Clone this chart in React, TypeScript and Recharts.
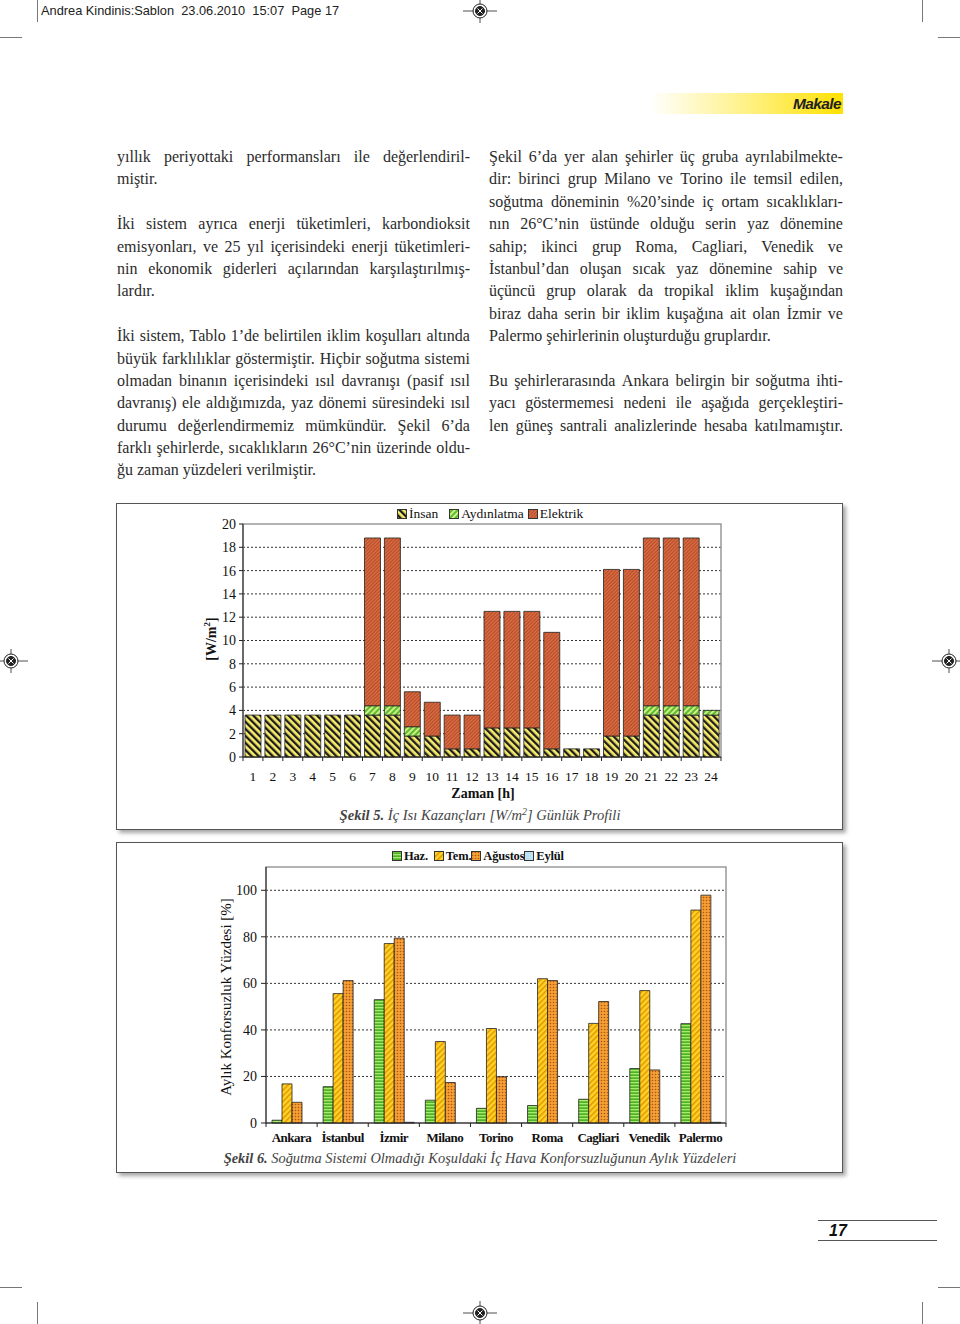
import React from 'react';
import { BarChart, Bar, XAxis, YAxis, CartesianGrid, ReferenceArea } from 'recharts';

// Şekil 5 - hourly internal gains [W/m2]
const hours = ['1', '2', '3', '4', '5', '6', '7', '8', '9', '10', '11', '12', '13', '14', '15', '16', '17', '18', '19', '20', '21', '22', '23', '24'];
const insan = [3.6, 3.6, 3.6, 3.6, 3.6, 3.6, 3.6, 3.6, 1.8, 1.8, 0.7, 0.7, 2.5, 2.5, 2.5, 0.7, 0.7, 0.7, 1.8, 1.8, 3.6, 3.6, 3.6, 3.6];
const aydinlatma = [0, 0, 0, 0, 0, 0, 0.8, 0.8, 0.8, 0, 0, 0, 0, 0, 0, 0, 0, 0, 0, 0, 0.8, 0.8, 0.8, 0.4];
const elektrik = [0, 0, 0, 0, 0, 0, 14.4, 14.4, 3.0, 2.9, 2.9, 2.9, 10.0, 10.0, 10.0, 10.0, 0, 0, 14.3, 14.3, 14.4, 14.4, 14.4, 0];
const gainTicks = [0, 2, 4, 6, 8, 10, 12, 14, 16, 18, 20];
const gainGrid = [2, 4, 6, 8, 10, 12, 14, 16, 18];

// Şekil 6 - monthly discomfort percentages
const cities = ['Ankara', 'İstanbul', 'İzmir', 'Milano', 'Torino', 'Roma', 'Cagliari', 'Venedik', 'Palermo'];
const haziran = [1.2, 15.6, 53.0, 9.8, 6.3, 7.5, 10.2, 23.4, 42.7];
const temmuz = [16.8, 55.6, 77.1, 35.0, 40.6, 62.0, 42.8, 56.9, 91.5];
const agustos = [8.9, 61.2, 79.4, 17.4, 19.9, 61.2, 52.2, 22.8, 97.9];
const eylul = [0, 0, 0.3, 0, 0, 0, 0, 0, 0.3];
const pctTicks = [0, 20, 40, 60, 80, 100];
const pctGrid = [20, 40, 60, 80, 100];

const gainData = hours.map((h, i) => ({ hour: h, insan: insan[i], aydinlatma: aydinlatma[i], elektrik: elektrik[i] }));
const pctData = cities.map((c, i) => ({ city: c, haz: haziran[i], tem: temmuz[i], agu: agustos[i], eyl: eylul[i] }));

const leftLines: [string, boolean][] = [
  ['yıllık periyottaki performansları ile değerlendiril-', true],
  ['miştir.', false],
  ['', false],
  ['İki sistem ayrıca enerji tüketimleri, karbondioksit', true],
  ['emisyonları, ve 25 yıl içerisindeki enerji tüketimleri-', true],
  ['nin ekonomik giderleri açılarından karşılaştırılmış-', true],
  ['lardır.', false],
  ['', false],
  ['İki sistem, Tablo 1’de belirtilen iklim koşulları altında', true],
  ['büyük farklılıklar göstermiştir. Hiçbir soğutma sistemi', true],
  ['olmadan binanın içerisindeki ısıl davranışı (pasif ısıl', true],
  ['davranış) ele aldığımızda, yaz dönemi süresindeki ısıl', true],
  ['durumu değerlendirmemiz mümkündür. Şekil 6’da', true],
  ['farklı şehirlerde, sıcaklıkların 26°C’nin üzerinde oldu-', true],
  ['ğu zaman yüzdeleri verilmiştir.', false],
];

const rightLines: [string, boolean][] = [
  ['Şekil 6’da yer alan şehirler üç gruba ayrılabilmekte-', true],
  ['dir: birinci grup Milano ve Torino ile temsil edilen,', true],
  ['soğutma döneminin %20’sinde iç ortam sıcaklıkları-', true],
  ['nın 26°C’nin üstünde olduğu serin yaz dönemine', true],
  ['sahip; ikinci grup Roma, Cagliari, Venedik ve', true],
  ['İstanbul’dan oluşan sıcak yaz dönemine sahip ve', true],
  ['üçüncü grup olarak da tropikal iklim kuşağından', true],
  ['biraz daha serin bir iklim kuşağına ait olan İzmir ve', true],
  ['Palermo şehirlerinin oluşturduğu gruplardır.', false],
  ['', false],
  ['Bu şehirlerarasında Ankara belirgin bir soğutma ihti-', true],
  ['yacı göstermemesi nedeni ile aşağıda gerçekleştiri-', true],
  ['len güneş santrali analizlerinde hesaba katılmamıştır.', true],
];

const SERIF = "'Liberation Serif', 'Times New Roman', serif";
const SANS = "'Liberation Sans', Arial, sans-serif";
const LINE_H = 22.4;

const Column = ({ lines, left, width }: { lines: [string, boolean][]; left: number; width: number }) => (
  <div style={{ position: 'absolute', left, top: 146, width, fontFamily: SERIF, fontSize: 16, color: '#2b2b2b' }}>
    {lines.map(([t, just], i) => (
      <div
        key={i}
        style={{
          height: LINE_H,
          lineHeight: `${LINE_H}px`,
          whiteSpace: 'nowrap',
          display: just ? 'flex' : 'block',
          justifyContent: 'space-between',
        }}
      >
        {just ? t.split(' ').map((w, j) => <span key={j}>{w}</span>) : t}
      </div>
    ))}
  </div>
);

const RegMark = ({ x, y }: { x: number; y: number }) => (
  <g transform={`translate(${x},${y})`} stroke="#222" fill="none">
    <line x1={-17} y1={0} x2={17} y2={0} strokeWidth={0.8} />
    <line x1={0} y1={-12} x2={0} y2={12} strokeWidth={0.8} />
    <circle r={7} strokeWidth={1} fill="#fff" />
    <circle r={4.5} fill="#222" />
    <line x1={-2.5} y1={-2.5} x2={2.5} y2={2.5} stroke="#fff" strokeWidth={1} />
    <line x1={-2.5} y1={2.5} x2={2.5} y2={-2.5} stroke="#fff" strokeWidth={1} />
  </g>
);

// x axis tick that puts the tick mark on the category boundary
const BoundaryTick = (props: any) => {
  const { x, y, payload, band, last, dy, fontWeight, fontSize, letterSpacing } = props;
  const half = band / 2;
  return (
    <g>
      <line x1={x - half} y1={y} x2={x - half} y2={y + 4} stroke="#222" />
      {payload.value === last && <line x1={x + half} y1={y} x2={x + half} y2={y + 4} stroke="#222" />}
      <text
        x={x}
        y={y + dy}
        textAnchor="middle"
        dominantBaseline="central"
        fontFamily={SERIF}
        fontSize={fontSize}
        fontWeight={fontWeight}
        letterSpacing={letterSpacing}
        fill="#111"
      >
        {payload.value}
      </text>
    </g>
  );
};

const Swatch = ({ fill }: { fill: string }) => (
  <svg width={10} height={10} style={{ marginRight: 2, display: 'block' }}>
    <rect x={0.5} y={0.5} width={9} height={9} fill={fill} stroke="#333" strokeWidth={1} />
  </svg>
);

const frame: React.CSSProperties = {
  position: 'absolute',
  left: 116,
  width: 727,
  boxSizing: 'border-box',
  border: '1px solid #555',
  boxShadow: '3px 3px 4px rgba(0,0,0,0.35)',
  background: '#fff',
};

export default function App() {
  return (
    <div style={{ position: 'absolute', left: 0, top: 0, width: 960, height: 1324, background: '#fff', overflow: 'hidden' }}>
      <svg width={960} height={1324} style={{ position: 'absolute', left: 0, top: 0 }}>
        <defs>
          <pattern id="p-insan" width="5" height="5" patternUnits="userSpaceOnUse" patternTransform="rotate(-45)">
            <rect width="5" height="5" fill="#f7eb6c" />
            <rect width="2.3" height="5" fill="#1c1c1c" />
          </pattern>
          <pattern id="p-ayd" width="4" height="4" patternUnits="userSpaceOnUse" patternTransform="rotate(45)">
            <rect width="4" height="4" fill="#5dbb2c" />
            <rect width="1.8" height="4" fill="#d6f590" />
          </pattern>
          <pattern id="p-elk" width="2.5" height="2.5" patternUnits="userSpaceOnUse" patternTransform="rotate(45)">
            <rect width="2.5" height="2.5" fill="#d8693f" />
            <rect width="0.9" height="2.5" fill="#b04b2a" />
          </pattern>
          <pattern id="p-haz" width="4" height="3" patternUnits="userSpaceOnUse">
            <rect width="4" height="3" fill="#4fb128" />
            <rect width="4" height="1.3" fill="#a8ea6c" />
          </pattern>
          <pattern id="p-tem" width="4" height="4" patternUnits="userSpaceOnUse" patternTransform="rotate(45)">
            <rect width="4" height="4" fill="#ffd51e" />
            <rect width="1.5" height="4" fill="#e2920e" />
          </pattern>
          <pattern id="p-agu" width="3" height="3" patternUnits="userSpaceOnUse">
            <rect width="3" height="3" fill="#f4a032" />
            <circle cx="1.5" cy="1.5" r="0.8" fill="#b35218" />
          </pattern>
          <linearGradient id="g-makale" x1="0" x2="1" y1="0" y2="0">
            <stop offset="0" stopColor="#fff" />
            <stop offset="0.55" stopColor="#fff07a" />
            <stop offset="1" stopColor="#ffe100" />
          </linearGradient>
        </defs>
        {/* crop marks */}
        <g stroke="#777" strokeWidth={1}>
          <line x1={37.5} y1={0} x2={37.5} y2={22} />
          <line x1={922.5} y1={0} x2={922.5} y2={22} />
          <line x1={0} y1={37.5} x2={22} y2={37.5} />
          <line x1={938} y1={37.5} x2={960} y2={37.5} />
          <line x1={0} y1={1287.5} x2={22} y2={1287.5} />
          <line x1={938} y1={1287.5} x2={960} y2={1287.5} />
          <line x1={37.5} y1={1302} x2={37.5} y2={1324} />
          <line x1={922.5} y1={1302} x2={922.5} y2={1324} />
        </g>
        <RegMark x={480} y={11} />
        <RegMark x={11} y={661} />
        <RegMark x={949} y={661} />
        <RegMark x={480} y={1313} />
        <rect x={650} y={93} width={193} height={21} fill="url(#g-makale)" />
        <line x1={818} y1={1220.5} x2={937} y2={1220.5} stroke="#555" strokeWidth={1.2} />
        <line x1={818} y1={1240.5} x2={937} y2={1240.5} stroke="#555" strokeWidth={1.2} />
      </svg>

      <div style={{ position: 'absolute', left: 41, top: 3, fontFamily: SANS, fontSize: 12.8, lineHeight: '16px', color: '#222', whiteSpace: 'pre' }}>
        Andrea Kindinis:Sablon  23.06.2010  15:07  Page 17
      </div>
      <div style={{ position: 'absolute', left: 650, top: 93, width: 191, height: 21, lineHeight: '21px', textAlign: 'right', fontFamily: SANS, fontWeight: 'bold', fontStyle: 'italic', fontSize: 15.5, color: '#222', letterSpacing: -0.6 }}>
        Makale
      </div>
      <div style={{ position: 'absolute', left: 829, top: 1221, lineHeight: '19px', fontFamily: SANS, fontWeight: 'bold', fontStyle: 'italic', fontSize: 16, color: '#111' }}>
        17
      </div>

      <Column lines={leftLines} left={117} width={353} />
      <Column lines={rightLines} left={489} width={354} />

      {/* Şekil 5 */}
      <div style={{ ...frame, top: 503, height: 327 }} />
      <div style={{ position: 'absolute', left: 117, top: 503 }}>
        <BarChart width={726} height={326} data={gainData} margin={{ top: 21, right: 122, bottom: 42, left: 86 }} barSize={16}>
          <ReferenceArea y1={0} y2={20} fill="none" stroke="#999" strokeWidth={1.5} />
          <CartesianGrid vertical={false} horizontalValues={gainGrid} stroke="#333" strokeDasharray="2 2" />
          <XAxis
            dataKey="hour"
            interval={0}
            height={30}
            tickSize={0}
            tickMargin={0}
            axisLine={{ stroke: '#222' }}
            tick={<BoundaryTick band={477.7 / 24} last="24" dy={19} fontSize={13.5} />}
          />
          <YAxis
            domain={[0, 20]}
            ticks={gainTicks}
            width={40}
            tickSize={4}
            tickMargin={3}
            axisLine={{ stroke: '#222' }}
            tickLine={{ stroke: '#222' }}
            tick={{ fontFamily: SERIF, fontSize: 14, fill: '#111' }}
          />
          <Bar dataKey="insan" stackId="a" fill="url(#p-insan)" stroke="#222" strokeWidth={0.8} isAnimationActive={false} />
          <Bar dataKey="aydinlatma" stackId="a" fill="url(#p-ayd)" stroke="#222" strokeWidth={0.8} isAnimationActive={false} />
          <Bar dataKey="elektrik" stackId="a" fill="url(#p-elk)" stroke="#222" strokeWidth={0.8} isAnimationActive={false} />
        </BarChart>
      </div>
      <div style={{ position: 'absolute', left: 397, top: 506, display: 'flex', alignItems: 'center', fontFamily: SERIF, fontSize: 13.5, lineHeight: '16px', color: '#111', whiteSpace: 'nowrap' }}>
        <Swatch fill="url(#p-insan)" />
        <span style={{ marginRight: 11 }}>İnsan</span>
        <Swatch fill="url(#p-ayd)" />
        <span style={{ marginRight: 4 }}>Aydınlatma</span>
        <Swatch fill="url(#p-elk)" />
        <span>Elektrik</span>
      </div>
      <div
        style={{
          position: 'absolute', left: 211, top: 639, transform: 'translate(-50%,-50%) rotate(-90deg)',
          fontFamily: SERIF, fontWeight: 'bold', fontSize: 14, color: '#111', whiteSpace: 'nowrap',
        }}
      >
        [W/m<sup style={{ fontSize: 9 }}>2</sup>]
      </div>
      <div style={{ position: 'absolute', left: 483, top: 794, transform: 'translate(-50%,-50%)', fontFamily: SERIF, fontWeight: 'bold', fontSize: 14, color: '#111', whiteSpace: 'nowrap' }}>
        Zaman [h]
      </div>
      <div style={{ position: 'absolute', left: 480, top: 815, transform: 'translate(-50%,-50%)', fontFamily: SERIF, fontStyle: 'italic', fontSize: 14.6, color: '#444', whiteSpace: 'nowrap' }}>
        <b>Şekil 5.</b> İç Isı Kazançları [W/m<sup style={{ fontSize: 10 }}>2</sup>] Günlük Profili
      </div>

      {/* Şekil 6 */}
      <div style={{ ...frame, top: 842, height: 331 }} />
      <div style={{ position: 'absolute', left: 117, top: 842 }}>
        <BarChart width={726} height={330} data={pctData} margin={{ top: 25, right: 117, bottom: 24, left: 109 }} barGap={0} barSize={10}>
          <ReferenceArea y1={0} y2={110} fill="none" stroke="#999" strokeWidth={1.5} />
          <CartesianGrid vertical={false} horizontalValues={pctGrid} stroke="#333" strokeDasharray="2 2" />
          <XAxis
            dataKey="city"
            interval={0}
            height={25}
            tickSize={0}
            tickMargin={0}
            axisLine={{ stroke: '#222' }}
            tick={<BoundaryTick band={459.7 / 9} last="Palermo" dy={14} fontSize={13} fontWeight="bold" letterSpacing={-0.5} />}
          />
          <YAxis
            domain={[0, 110]}
            ticks={pctTicks}
            width={40}
            tickSize={5}
            tickMargin={4}
            axisLine={{ stroke: '#222' }}
            tickLine={{ stroke: '#222' }}
            tick={{ fontFamily: SERIF, fontSize: 14, fill: '#111' }}
          />
          <Bar dataKey="haz" fill="url(#p-haz)" stroke="#222" strokeWidth={0.8} isAnimationActive={false} />
          <Bar dataKey="tem" fill="url(#p-tem)" stroke="#222" strokeWidth={0.8} isAnimationActive={false} />
          <Bar dataKey="agu" fill="url(#p-agu)" stroke="#222" strokeWidth={0.8} isAnimationActive={false} />
          <Bar dataKey="eyl" fill="#bfe2f3" stroke="#222" strokeWidth={0.8} isAnimationActive={false} />
        </BarChart>
      </div>
      <div style={{ position: 'absolute', left: 392, top: 848, display: 'flex', alignItems: 'center', fontFamily: SERIF, fontWeight: 'bold', fontSize: 12.5, lineHeight: '16px', color: '#111', whiteSpace: 'nowrap', letterSpacing: -0.2 }}>
        <Swatch fill="url(#p-haz)" />
        <span style={{ marginRight: 6 }}>Haz.</span>
        <Swatch fill="url(#p-tem)" />
        <span style={{ marginRight: 0 }}>Tem.</span>
        <Swatch fill="url(#p-agu)" />
        <span style={{ marginRight: 0 }}>Ağustos</span>
        <Swatch fill="#bfe2f3" />
        <span>Eylül</span>
      </div>
      <div
        style={{
          position: 'absolute', left: 226, top: 997, transform: 'translate(-50%,-50%) rotate(-90deg)',
          fontFamily: SERIF, fontSize: 15, color: '#111', whiteSpace: 'nowrap',
        }}
      >
        Aylık Konforsuzluk Yüzdesi [%]
      </div>
      <div style={{ position: 'absolute', left: 480, top: 1158, transform: 'translate(-50%,-50%)', fontFamily: SERIF, fontStyle: 'italic', fontSize: 14.4, color: '#444', whiteSpace: 'nowrap' }}>
        <b>Şekil 6.</b> Soğutma Sistemi Olmadığı Koşuldaki İç Hava Konforsuzluğunun Aylık Yüzdeleri
      </div>
    </div>
  );
}
